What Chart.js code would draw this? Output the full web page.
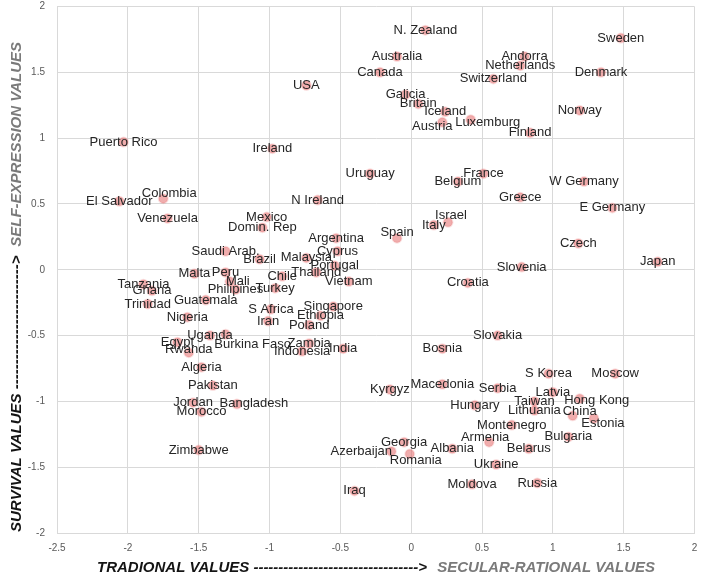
<!DOCTYPE html>
<html>
<head>
<meta charset="utf-8">
<title>Traditional vs Secular-rational values</title>
<script src="https://cdn.jsdelivr.net/npm/chart.js@4.4.0/dist/chart.umd.min.js"></script>
<style>
  html, body { margin: 0; padding: 0; background: #fff; }
</style>
</head>
<body>
<canvas id="values-chart" width="701" height="579"></canvas>
<script>
// Countries and their positions on the two value dimensions
const countries = [
  "Puerto Rico", "USA", "Ireland", "N. Zealand", "Sweden", "Australia", "Canada", "Andorra",
  "Netherlands", "Switzerland", "Denmark", "Galicia", "Britain", "Iceland", "Austria", "Luxemburg",
  "Finland", "Norway", "Uruguay", "France", "Belgium", "W Germany", "Greece", "E Germany",
  "Israel", "Italy", "Spain", "Czech", "Japan", "Slovenia", "Croatia", "Slovakia",
  "Bosnia", "S Korea", "Moscow", "Kyrgyz", "Macedonia", "Serbia", "Latvia", "Hong Kong",
  "Taiwan", "Hungary", "Lithuania", "China", "Estonia", "Montenegro", "Armenia", "Bulgaria",
  "Georgia", "Albania", "Belarus", "Azerbaijan", "Romania", "Ukraine", "Moldova", "Russia",
  "Iraq", "Algeria", "Pakistan", "Jordan", "Bangladesh", "Morocco", "Zimbabwe", "El Salvador",
  "Colombia", "N Ireland", "Venezuela", "Mexico", "Domin. Rep", "Argentina", "Saudi Arab.", "Brazil",
  "Malaysia", "Cyprus", "Portugal", "Thailand", "Vietnam", "Malta", "Peru", "Mali",
  "Chile", "Tanzania", "Ghana", "Philipines", "Turkey", "Trinidad", "Guatemala", "S Africa",
  "Iran", "Singapore", "Ethiopia", "Poland", "Nigeria", "Uganda", "Egypt", "Burkina Faso",
  "Zambia", "Indonesia", "India", "Rwanda"
];

// traditional (-) ... secular-rational (+)
const tradSecular = [
  -2.03, -0.74, -0.98, 0.10, 1.48, -0.10, -0.22, 0.80,
  0.77, 0.58, 1.34, -0.04, 0.05, 0.24, 0.22, 0.42,
  0.84, 1.19, -0.29, 0.51, 0.33, 1.22, 0.77, 1.42,
  0.26, 0.16, -0.10, 1.18, 1.74, 0.78, 0.40, 0.61,
  0.22, 0.97, 1.44, -0.15, 0.22, 0.61, 1.00, 1.19,
  0.87, 0.45, 0.87, 1.14, 1.29, 0.71, 0.55, 1.11,
  -0.05, 0.29, 0.83, -0.14, -0.01, 0.60, 0.43, 0.89,
  -0.40, -1.48, -1.40, -1.54, -1.23, -1.48, -1.50, -2.06,
  -1.75, -0.66, -1.72, -1.02, -1.05, -0.53, -1.31, -1.07,
  -0.74, -0.52, -0.54, -0.67, -0.44, -1.53, -1.31, -1.28,
  -0.91, -1.89, -1.83, -1.24, -0.96, -1.86, -1.45, -0.99,
  -1.01, -0.55, -0.64, -0.72, -1.58, -1.42, -1.65, -1.31,
  -0.72, -0.77, -0.48, -1.57
];

// survival (-) ... self-expression (+)
const survSelf = [
  0.97, 1.40, 0.92, 1.82, 1.76, 1.62, 1.50, 1.62,
  1.55, 1.45, 1.50, 1.33, 1.26, 1.20, 1.12, 1.14,
  1.04, 1.21, 0.73, 0.73, 0.67, 0.67, 0.55, 0.47,
  0.36, 0.34, 0.24, 0.20, 0.06, 0.02, -0.10, -0.50,
  -0.60, -0.79, -0.79, -0.91, -0.87, -0.90, -0.93, -0.98,
  -1.00, -1.03, -1.07, -1.11, -1.13, -1.18, -1.31, -1.27,
  -1.31, -1.36, -1.36, -1.38, -1.40, -1.48, -1.63, -1.62,
  -1.68, -0.74, -0.88, -1.01, -1.02, -1.08, -1.37, 0.52,
  0.54, 0.53, 0.39, 0.40, 0.32, 0.24, 0.14, 0.08,
  0.09, 0.14, 0.03, -0.02, -0.09, -0.03, -0.02, -0.09,
  -0.05, -0.11, -0.16, -0.15, -0.14, -0.26, -0.23, -0.30,
  -0.39, -0.28, -0.35, -0.42, -0.36, -0.50, -0.55, -0.49,
  -0.56, -0.62, -0.60, -0.63
];

const xRange = [-2.5, 2];
const yRange = [-2, 2];
const tickStep = 0.5;

// labels that sit beside their marker instead of on it (pixels)
const labelShift = {
  "Austria": [-10, 4], "Luxemburg": [17, 3], "Israel": [3, -7], "Spain": [0, -6],
  "Hong Kong": [17, 2], "China": [7, -4], "Estonia": [9, 5], "Armenia": [-4, -5],
  "Azerbaijan": [-30, 0], "Romania": [6, 6], "Bangladesh": [17, -1], "Colombia": [6, -5],
  "Mali": [8, 0], "Burkina Faso": [27, 10], "Rwanda": [0, -3]
};

const points = countries.map((c, i) => ({ x: tradSecular[i], y: survSelf[i] }));

const pointLabels = {
  id: 'pointLabels',
  afterDatasetsDraw(chart) {
    const ctx = chart.ctx;
    const meta = chart.getDatasetMeta(0);
    ctx.save();
    ctx.font = '13px "Liberation Sans"';
    ctx.fillStyle = '#262626';
    ctx.textAlign = 'center';
    ctx.textBaseline = 'middle';
    meta.data.forEach((pt, i) => {
      const off = labelShift[countries[i]] || [0, 0];
      ctx.fillText(countries[i], pt.x + off[0], pt.y + off[1]);
    });
    ctx.restore();
  }
};

// axis titles: dark first half, grey second half, dashes in between
function splitTitle(ctx, start, end, dark, light) {
  ctx.font = 'italic bold 15px "Liberation Sans"';
  ctx.textBaseline = 'middle';
  ctx.textAlign = 'left';
  const wDark = ctx.measureText(dark).width;
  const wLight = ctx.measureText(light).width;
  const wDash = ctx.measureText('-').width;
  const wArrow = ctx.measureText('>  ').width;
  const n = Math.max(1, Math.floor((end - start - wDark - wLight - wArrow) / wDash));
  ctx.fillStyle = '#141414';
  ctx.fillText(dark + '-'.repeat(n) + '>', start, 0);
  ctx.fillStyle = '#7a7a7a';
  ctx.fillText(light, end - wLight, 0);
}

const axisTitles = {
  id: 'axisTitles',
  afterDraw(chart) {
    const ctx = chart.ctx;
    ctx.save();
    ctx.translate(0, 568);
    splitTitle(ctx, 97, 655, 'TRADIONAL VALUES ', 'SECULAR-RATIONAL VALUES');
    ctx.restore();

    ctx.save();
    ctx.translate(17, 0);
    ctx.rotate(-Math.PI / 2);
    splitTitle(ctx, -532, -42, 'SURVIVAL VALUES ', 'SELF-EXPRESSION VALUES');
    ctx.restore();
  }
};

const tickFont = { family: 'Liberation Sans', size: 10 };
const plainTick = v => String(v);

new Chart(document.getElementById('values-chart'), {
  type: 'scatter',
  data: {
    datasets: [{
      data: points,
      pointRadius: 4.5,
      pointHoverRadius: 4.5,
      backgroundColor: 'rgba(228, 105, 105, 0.55)',
      borderColor: 'rgba(228, 105, 105, 0.2)',
      borderWidth: 2
    }]
  },
  options: {
    responsive: false,
    animation: false,
    events: [],
    layout: { padding: { top: 5, right: 2, left: 0, bottom: 0 } },
    plugins: { legend: { display: false }, tooltip: { enabled: false } },
    scales: {
      x: {
        type: 'linear',
        min: xRange[0], max: xRange[1],
        ticks: { stepSize: tickStep, color: '#595959', font: tickFont, padding: 9, callback: plainTick },
        grid: { color: '#d9d9d9', drawTicks: false },
        border: { color: '#d9d9d9' },
        afterFit(scale) { scale.height = 46; scale.paddingLeft = 0; scale.paddingRight = 0; }
      },
      y: {
        min: yRange[0], max: yRange[1],
        ticks: { stepSize: tickStep, color: '#595959', font: tickFont, padding: 12, callback: plainTick },
        grid: { color: '#d9d9d9', drawTicks: false },
        border: { color: '#d9d9d9' },
        afterFit(scale) { scale.width = 57; scale.paddingTop = 0; scale.paddingBottom = 0; }
      }
    }
  },
  plugins: [pointLabels, axisTitles]
});
</script>
</body>
</html>
